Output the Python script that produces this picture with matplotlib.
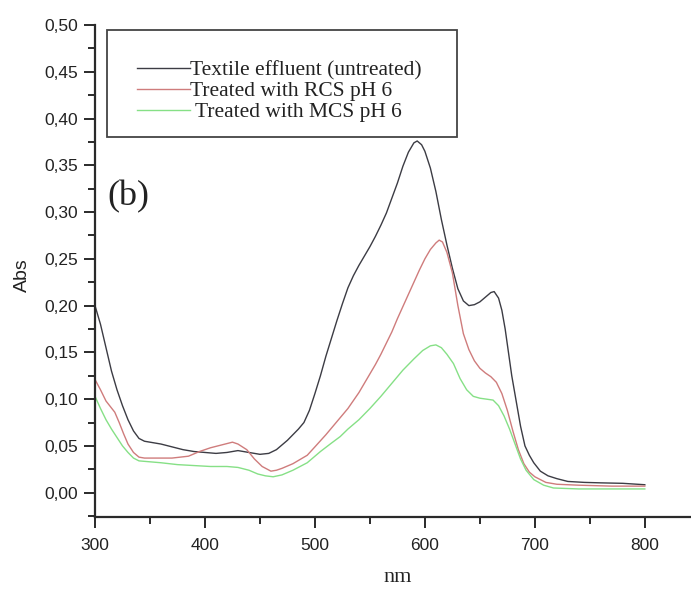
import matplotlib
matplotlib.use("Agg")
import matplotlib.pyplot as plt
from matplotlib.ticker import MultipleLocator, FuncFormatter
from matplotlib.patches import Rectangle

# ---------------- data ----------------
wl_untreated = [300, 305, 310, 315, 320, 325, 330, 335, 340, 345, 350, 360, 370, 380, 390,
                400, 410, 420, 430, 440, 450, 458, 465, 475, 485, 490, 495, 500, 505, 510,
                515, 520, 525, 530, 535, 540, 545, 550, 555, 560, 565, 570, 575, 580, 585,
                590, 593, 597, 600, 605, 610, 615, 620, 625, 630, 635, 640, 645, 650, 655,
                660, 663, 667, 670, 673, 676, 679, 683, 687, 691, 695, 699, 705, 712, 720,
                730, 745, 760, 780, 800]
abs_untreated = [0.200, 0.180, 0.155, 0.130, 0.110, 0.093, 0.078, 0.066, 0.058, 0.055, 0.054,
                 0.052, 0.049, 0.046, 0.044, 0.043, 0.042, 0.043, 0.045, 0.043, 0.041, 0.042,
                 0.046, 0.056, 0.068, 0.075, 0.088, 0.106, 0.125, 0.146, 0.165, 0.184, 0.202,
                 0.219, 0.232, 0.243, 0.253, 0.263, 0.274, 0.286, 0.299, 0.315, 0.331, 0.349,
                 0.364, 0.374, 0.376, 0.372, 0.365, 0.347, 0.322, 0.292, 0.265, 0.240, 0.218,
                 0.205, 0.200, 0.201, 0.204, 0.209, 0.214, 0.215, 0.208, 0.195, 0.175, 0.150,
                 0.125, 0.098, 0.071, 0.050, 0.040, 0.032, 0.023, 0.018, 0.015, 0.012, 0.011,
                 0.0105, 0.010, 0.0085]

wl_rcs = [300, 305, 310, 314, 318, 322, 326, 330, 335, 340, 345, 355, 370, 385, 395, 405,
          415, 425, 430, 438, 445, 452, 460, 465, 470, 480, 493, 500, 510, 520, 530, 540,
          550, 555, 560, 565, 570, 575, 580, 585, 590, 595, 600, 605, 610, 613, 616, 620,
          625, 630, 635, 640, 645, 650, 655, 660, 665, 670, 675, 680, 685, 690, 695, 700,
          710, 720, 740, 770, 800]
abs_rcs = [0.121, 0.110, 0.098, 0.092, 0.086, 0.075, 0.063, 0.052, 0.043, 0.038, 0.037,
           0.037, 0.037, 0.039, 0.044, 0.048, 0.051, 0.054, 0.052, 0.046, 0.036, 0.028,
           0.023, 0.024, 0.026, 0.031, 0.040, 0.049, 0.062, 0.076, 0.090, 0.107, 0.127,
           0.137, 0.148, 0.160, 0.172, 0.186, 0.199, 0.212, 0.225, 0.238, 0.250, 0.260,
           0.267, 0.270, 0.268, 0.257, 0.235, 0.200, 0.170, 0.153, 0.141, 0.133, 0.128,
           0.124, 0.118, 0.106, 0.088, 0.066, 0.046, 0.031, 0.022, 0.017, 0.011, 0.009,
           0.008, 0.007, 0.007]

wl_mcs = [300, 305, 310, 315, 320, 325, 330, 335, 340, 350, 360, 375, 390, 405, 420, 430,
          440, 448, 455, 462, 470, 480, 493, 505, 515, 523, 530, 540, 550, 560, 570, 580,
          590, 598, 605, 610, 615, 620, 626, 632, 638, 644, 650, 656, 662, 667, 672, 677,
          682, 687, 692, 699, 708, 717, 740, 770, 800]
abs_mcs = [0.103, 0.090, 0.078, 0.068, 0.059, 0.050, 0.043, 0.037, 0.034, 0.033, 0.032,
           0.030, 0.029, 0.028, 0.028, 0.027, 0.024, 0.020, 0.018, 0.017, 0.019, 0.024,
           0.032, 0.044, 0.053, 0.060, 0.068, 0.078, 0.090, 0.103, 0.117, 0.131, 0.143,
           0.152, 0.157, 0.158, 0.155, 0.148, 0.138, 0.122, 0.110, 0.103, 0.101, 0.100,
           0.099, 0.093, 0.082, 0.068, 0.052, 0.036, 0.024, 0.014, 0.008, 0.005, 0.004,
           0.004, 0.004]

labels = ["Textile effluent (untreated)", "Treated with RCS pH 6", " Treated with MCS pH 6"]
colors = ["#3c3c44", "#cf7c7c", "#86e086"]

x_ticks = [300, 400, 500, 600, 700, 800]

# ---------------- figure ----------------
W, H = 691, 592
fig = plt.figure(figsize=(W / 100, H / 100), dpi=100)
ax = fig.add_axes([95 / W, 75 / H, (W - 95) / W, 492 / H])

for wl, ab, lab, c in zip([wl_untreated, wl_rcs, wl_mcs],
                          [abs_untreated, abs_rcs, abs_mcs], labels, colors):
    ax.plot(wl, ab, color=c, lw=1.0, label=lab)

ax.set_xlim(300, 842)
ax.set_ylim(-0.026, 0.50)

for s in ["top", "right"]:
    ax.spines[s].set_visible(False)
for s in ["left", "bottom"]:
    ax.spines[s].set_linewidth(1.6)
    ax.spines[s].set_color("#2a2a2a")

ax.set_xticks(x_ticks)
ax.xaxis.set_minor_locator(MultipleLocator(50))
ax.yaxis.set_major_locator(MultipleLocator(0.05))
ax.yaxis.set_minor_locator(MultipleLocator(0.025))
ax.yaxis.set_major_formatter(FuncFormatter(lambda v, p: f"{v:.2f}".replace(".", ",")))

tick_font = "Liberation Sans"
ax.tick_params(axis="both", which="major", direction="out", length=8, width=1.4,
               color="#2a2a2a", labelsize=12.5, pad=4)
ax.tick_params(axis="x", which="major", pad=7)
ax.tick_params(axis="both", which="minor", direction="out", length=5, width=1.4,
               color="#2a2a2a")
for lbl in ax.get_xticklabels() + ax.get_yticklabels():
    lbl.set_fontfamily(tick_font)
    lbl.set_color("#222222")

# axis labels
fig.text(22 / W, 1 - 275 / H, "Abs", rotation=90, ha="center", va="center",
         fontsize=14, family="Liberation Sans", color="#222222")
fig.text(398 / W, 1 - 578 / H, "nm", ha="center", va="center",
         fontsize=16, family="Liberation Serif", color="#222222")

# panel tag
fig.text(107 / W, 1 - 197 / H, "(b)", ha="left", va="center",
         fontsize=26, family="Liberation Serif", color="#222222")

# legend (entries without frame; frame drawn as a separate box)
leg = ax.legend(loc="upper left", bbox_to_anchor=(137 / W, 1 - 60 / H),
                bbox_transform=fig.transFigure, borderaxespad=0,
                prop={"family": "Liberation Serif", "size": 15.5},
                handlelength=2.45, handletextpad=0.0, labelspacing=0.05,
                borderpad=0.0, frameon=False)
for t in leg.get_texts():
    t.set_color("#222222")
fig.add_artist(Rectangle((107 / W, 1 - 137 / H), 350 / W, 107 / H,
                         transform=fig.transFigure, fill=False,
                         edgecolor="#444444", linewidth=1.3))

fig.savefig("out.png", dpi=100)
